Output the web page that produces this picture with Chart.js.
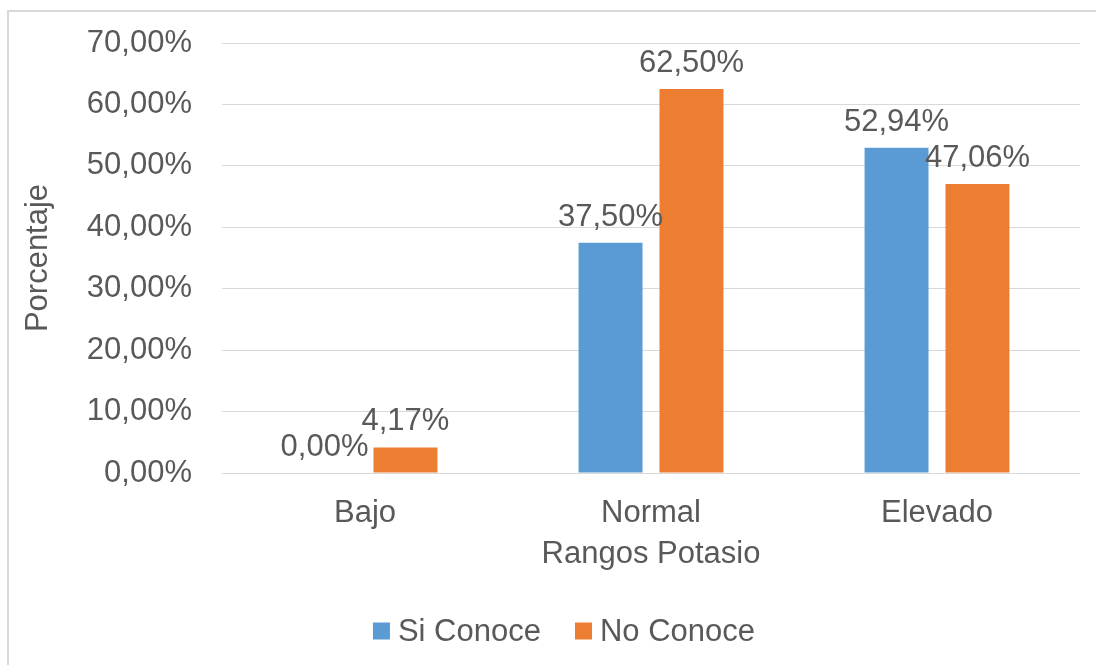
<!DOCTYPE html>
<html>
<head>
<meta charset="utf-8">
<script src="https://cdn.jsdelivr.net/npm/chart.js@4/dist/chart.umd.min.js"></script>
<style>
  html, body { margin: 0; padding: 0; background: #fff; }
  #wrap { width: 1096px; height: 665px; position: relative; }
</style>
</head>
<body>
<div id="wrap"><canvas id="chart" width="1096" height="665"></canvas></div>
<script>
var categories = ['Bajo', 'Normal', 'Elevado'];
var siConoce = [0.00, 37.50, 52.94];
var noConoce = [4.17, 62.50, 47.06];
var yTicks = [0, 10, 20, 30, 40, 50, 60, 70];

var textColor = '#595959';
var fontFamily = '"Liberation Sans", Arial, sans-serif';
var fontSize = 31;

function fmt(v) {
    return v.toFixed(2).replace('.', ',') + '%';
}

// frame lines (only top and left edges show in the picture)
var frame = {
    id: 'frame',
    beforeDraw: function (chart) {
        var ctx = chart.ctx;
        ctx.save();
        ctx.strokeStyle = '#d9d9d9';
        ctx.lineWidth = 2;
        ctx.beginPath();
        ctx.moveTo(8, 665);
        ctx.lineTo(8, 11);
        ctx.lineTo(1096, 11);
        ctx.stroke();
        ctx.restore();
    }
};

// value labels above bars
var barLabels = {
    id: 'barLabels',
    afterDatasetsDraw: function (chart) {
        var ctx = chart.ctx;
        ctx.save();
        ctx.font = fontSize + 'px ' + fontFamily;
        ctx.fillStyle = textColor;
        ctx.textAlign = 'center';
        ctx.textBaseline = 'alphabetic';
        chart.data.datasets.forEach(function (ds, i) {
            chart.getDatasetMeta(i).data.forEach(function (bar, j) {
                ctx.fillText(fmt(ds.data[j]), bar.x, bar.y - 17);
            });
        });
        ctx.restore();
    }
};

// legend drawn by hand, Excel style spacing
var bottomLegend = {
    id: 'bottomLegend',
    afterDraw: function (chart) {
        var ctx = chart.ctx;
        var box = 17, gap = 8, between = 34, cy = 631, cx = 564;
        ctx.save();
        ctx.font = fontSize + 'px ' + fontFamily;
        ctx.textBaseline = 'middle';
        ctx.textAlign = 'left';
        var items = chart.data.datasets;
        var total = 0;
        items.forEach(function (ds, i) {
            total += box + gap + ctx.measureText(ds.label).width;
            if (i > 0) total += between;
        });
        var x = cx - total / 2;
        items.forEach(function (ds) {
            ctx.fillStyle = ds.backgroundColor;
            ctx.fillRect(x, cy - box / 2, box, box);
            x += box + gap;
            ctx.fillStyle = textColor;
            ctx.fillText(ds.label, x, cy + 1);
            x += ctx.measureText(ds.label).width + between;
        });
        ctx.restore();
    }
};

var ctx = document.getElementById('chart').getContext('2d');
new Chart(ctx, {
    type: 'bar',
    data: {
        labels: categories,
        datasets: [{
            label: 'Si Conoce',
            data: siConoce,
            backgroundColor: '#5B9BD5'
        }, {
            label: 'No Conoce',
            data: noConoce,
            backgroundColor: '#ED7D31'
        }]
    },
    options: {
        responsive: false,
        animation: false,
        categoryPercentage: 0.566,
        barPercentage: 0.79,
        layout: { padding: { top: 43, right: 16, bottom: 60, left: 0 } },
        plugins: {
            legend: { display: false },
            tooltip: { enabled: false }
        },
        scales: {
            x: {
                grid: { display: false },
                border: { display: false },
                ticks: {
                    color: textColor,
                    font: { size: fontSize, family: fontFamily },
                    padding: 14
                },
                title: {
                    display: true,
                    text: 'Rangos Potasio',
                    color: textColor,
                    font: { size: fontSize, family: fontFamily },
                    padding: { top: 0, bottom: 32 }
                },
                afterFit: function (scale) { scale.height = 132; }
            },
            y: {
                min: 0,
                max: 70,
                border: { display: false },
                grid: { color: '#d9d9d9', drawTicks: false, lineWidth: 1 },
                afterBuildTicks: function (scale) {
                    scale.ticks = yTicks.map(function (v) { return { value: v }; });
                },
                ticks: {
                    color: textColor,
                    font: { size: fontSize, family: fontFamily },
                    padding: 30,
                    callback: function (v) { return fmt(v); }
                },
                title: {
                    display: true,
                    text: 'Porcentaje',
                    color: textColor,
                    font: { size: fontSize, family: fontFamily },
                    padding: { top: 20, bottom: 0 }
                },
                afterFit: function (scale) {
                    scale.width = 222;
                    scale.paddingTop = 0;
                    scale.paddingBottom = 0;
                }
            }
        }
    },
    plugins: [frame, barLabels, bottomLegend]
});
</script>
</body>
</html>
